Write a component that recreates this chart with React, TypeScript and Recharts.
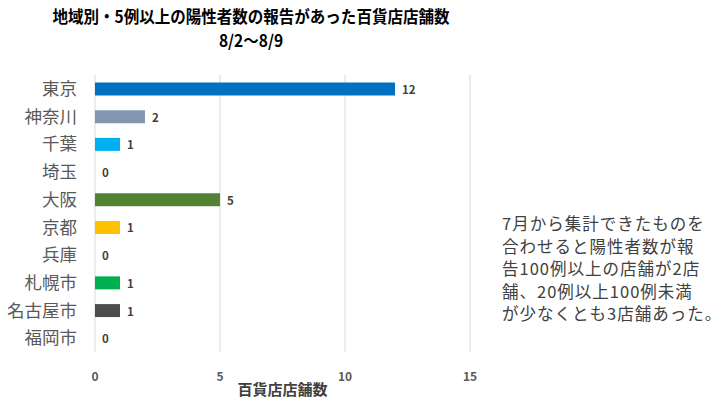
import { BarChart, Bar, XAxis, YAxis, CartesianGrid, Cell } from 'recharts';

const regions = ['東京', '神奈川', '千葉', '埼玉', '大阪', '京都', '兵庫', '札幌市', '名古屋市', '福岡市'];
const stores = [12, 2, 1, 0, 5, 1, 0, 1, 1, 0];
const barColors = ['#0070C0', '#8497B0', '#00B0F0', '#A5A5A5', '#548235', '#FFC000', '#A5A5A5', '#00B050', '#4D4D4D', '#A5A5A5'];
const xTicks = [0, 5, 10, 15];
const noteLines = [
  '7月から集計できたものを',
  '合わせると陽性者数が報',
  '告100例以上の店舗が2店',
  '舗、20例以上100例未満',
  'が少なくとも3店舗あった。',
];

const data = regions.map((name, i) => ({ name, value: stores[i] }));
const FONT = '"Noto Sans CJK JP", "Noto Sans", sans-serif';

// value label to the right of each bar, zeros included
const ValueLabel = (props: any) => {
  const { x, y, width, height, value } = props;
  const w = value === 0 ? 0 : Number(width || 0);
  return (
    <text
      x={Number(x) + w + 7}
      y={Number(y) + Number(height) / 2}
      dominantBaseline="central"
      fontSize={11.5}
      fontWeight={700}
      fill="#404040"
      fontFamily={FONT}
    >
      {value}
    </text>
  );
};

export default function App() {
  return (
    <div style={{ position: 'relative', width: 728, height: 401, background: '#fff', fontFamily: FONT }}>
      <style>{'body{margin:0}'}</style>
      <div style={{ position: 'absolute', left: 0, width: 502, top: 4, textAlign: 'center', fontWeight: 700, fontSize: 16.5, lineHeight: '24px', color: '#000' }}>
        <div style={{ transform: 'scaleX(0.94)' }}>地域別・5例以上の陽性者数の報告があった百貨店店舗数</div>
        <div style={{ transform: 'scaleX(0.94)' }}>8/2～8/9</div>
      </div>
      <BarChart
        width={728}
        height={401}
        data={data}
        layout="vertical"
        barCategoryGap="27%"
        margin={{ top: 75, right: 258, bottom: 0, left: 0 }}
      >
        <CartesianGrid horizontal={false} stroke="#D9D9D9" />
        <XAxis
          type="number"
          domain={[0, 15]}
          ticks={xTicks}
          axisLine={false}
          tickLine={false}
          tick={{ fontSize: 12, fontWeight: 700, fill: '#595959', fontFamily: FONT }}
          tickMargin={14}
          height={49}
          label={{ value: '百貨店店舗数', position: 'insideTop', dy: 27, fontSize: 15, fontWeight: 700, fill: '#404040', fontFamily: FONT }}
        />
        <YAxis
          type="category"
          dataKey="name"
          width={95}
          interval={0}
          axisLine={false}
          tickLine={false}
          tickMargin={12}
          tick={{ fontSize: 17.5, fill: '#595959', fontFamily: FONT }}
        />
        <Bar dataKey="value" isAnimationActive={false} minPointSize={1} label={ValueLabel}>
          {data.map((d, i) => (
            <Cell key={d.name} fill={d.value === 0 ? 'transparent' : barColors[i]} />
          ))}
        </Bar>
      </BarChart>
      <div style={{ position: 'absolute', left: 502, top: 212, fontSize: 16.5, letterSpacing: 1, lineHeight: '22.5px', color: '#404040', whiteSpace: 'nowrap' }}>
        {noteLines.map(l => (
          <div key={l}>{l}</div>
        ))}
      </div>
    </div>
  );
}
